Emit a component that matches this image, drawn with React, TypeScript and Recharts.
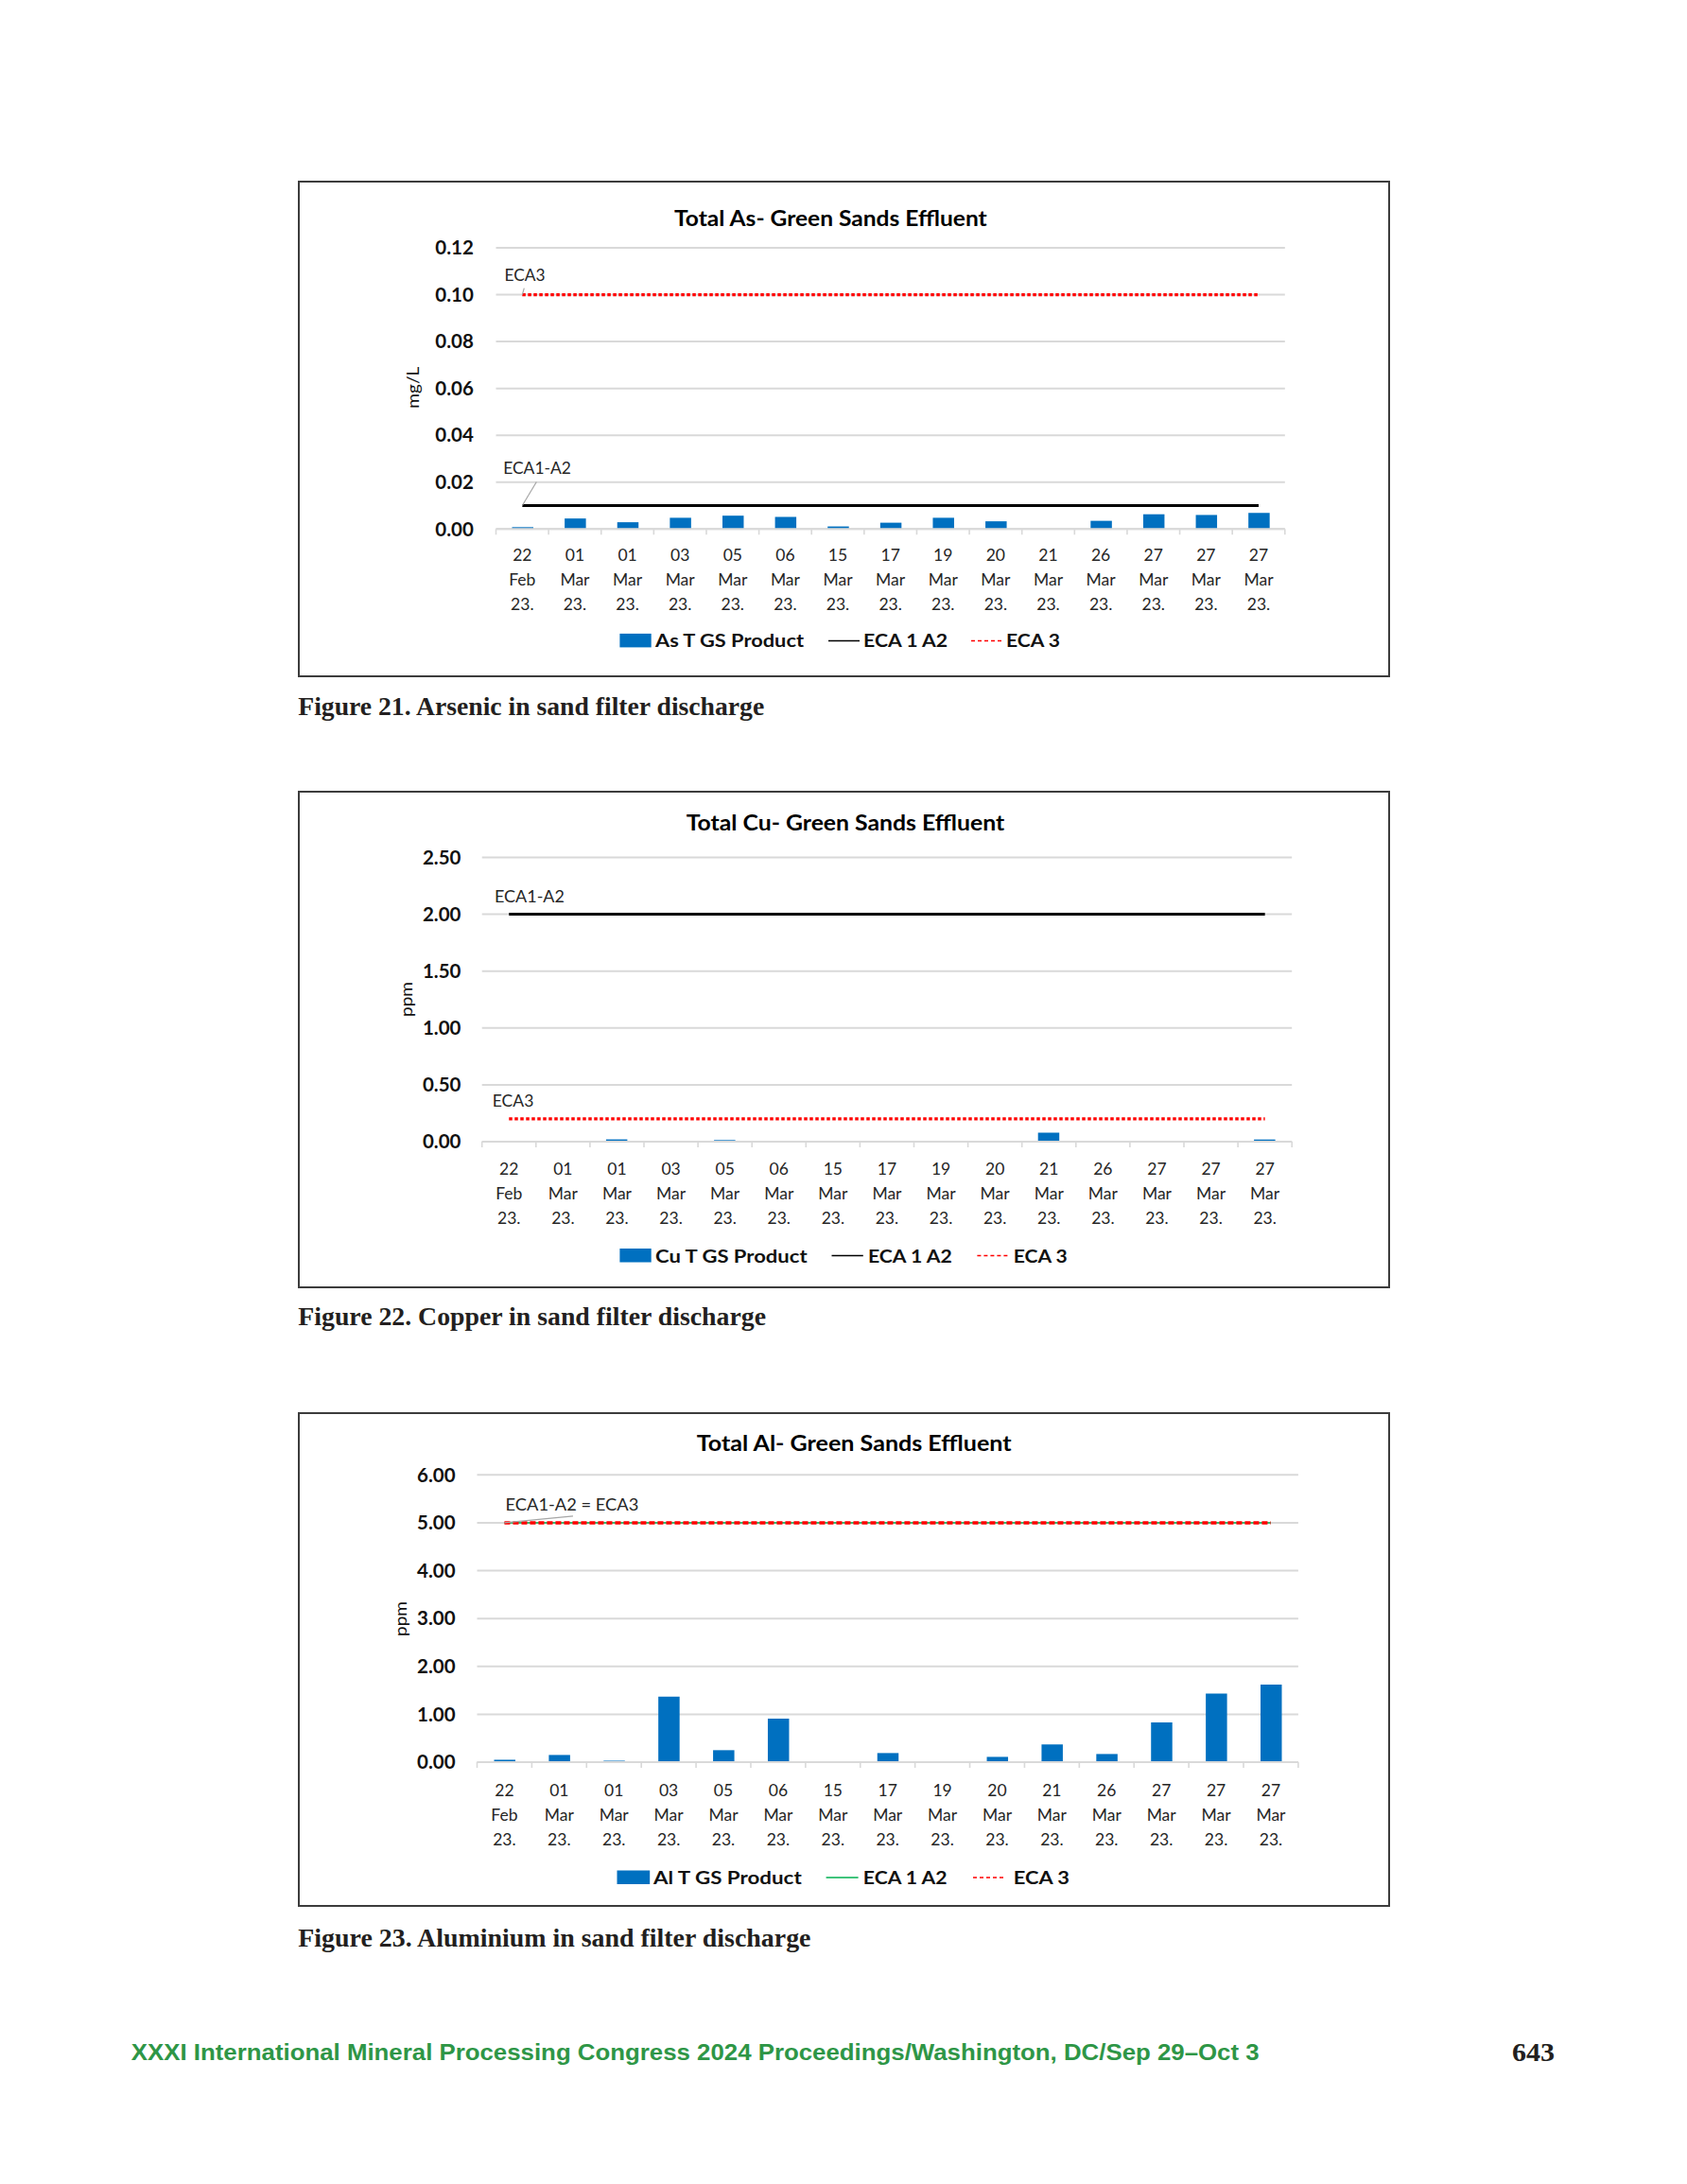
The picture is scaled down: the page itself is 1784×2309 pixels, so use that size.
import React from 'react';
import { ComposedChart, Bar, Line, XAxis, YAxis, CartesianGrid, ReferenceDot } from 'recharts';

// ---------- data ----------
const dates = ['22 Feb 23.', '01 Mar 23.', '01 Mar 23.', '03 Mar 23.', '05 Mar 23.', '06 Mar 23.', '15 Mar 23.', '17 Mar 23.', '19 Mar 23.', '20 Mar 23.', '21 Mar 23.', '26 Mar 23.', '27 Mar 23.', '27 Mar 23.', '27 Mar 23.'];

const asProduct = [0.0008, 0.0045, 0.0029, 0.0048, 0.0057, 0.0052, 0.0011, 0.0027, 0.0048, 0.0033, 0, 0.0035, 0.0063, 0.006, 0.0069];
const asEca1A2 = 0.01;
const asEca3 = 0.1;
const asTicks = [0, 0.02, 0.04, 0.06, 0.08, 0.1, 0.12];

const cuProduct = [0.005, 0.005, 0.02, 0.004, 0.014, 0.004, 0.003, 0.002, 0.002, 0.003, 0.079, 0.004, 0.005, 0.004, 0.019];
const cuEca1A2 = 2.0;
const cuEca3 = 0.2;
const cuTicks = [0, 0.5, 1, 1.5, 2, 2.5];

const alProduct = [0.05, 0.15, 0.03, 1.37, 0.25, 0.91, 0.01, 0.19, 0.01, 0.11, 0.37, 0.17, 0.83, 1.43, 1.62];
const alEca1A2 = 5.0;
const alEca3 = 5.0;
const alTicks = [0, 1, 2, 3, 4, 5, 6];

const legendNames = {
  as: ['As T GS Product', 'ECA 1 A2', 'ECA 3'],
  cu: ['Cu T GS Product', 'ECA 1 A2', 'ECA 3'],
  al: ['Al T GS Product', 'ECA 1 A2', 'ECA 3'],
};

// ---------- style ----------
const BLUE = '#0070C0';
const GRID = '#d9d9d9';
const FONT = 'Lato, "Open Sans", sans-serif';
const BOX_LEFT = 315;
const BOX_W = 1155;
const BORDER = 2;
const YW = 80;
const XH = 100;

type Ann = { text: string; dx: number; dy: number; w: number; leader?: [number, number] };

type PanelProps = {
  boxTop: number;
  boxH: number;
  values: number[];
  eca1: number;
  eca3: number;
  ticks: number[];
  plotLeft: number;
  plotRight: number;
  plotTop: number;
  plotBottom: number;
  labelGap: number;
  xOffs: number[];
  ann1?: Ann & { y: number };
  ann2?: Ann & { y: number };
  eca1Color: string;
  eca1Width: number;
  eca3Dash: string;
  eca3Width: number;
};

const annShape = (a: Ann) => (p: any) => {
  const { cx, cy } = p;
  if (cx == null || cy == null) return <g />;
  return (
    <g>
      {a.leader && (
        <line x1={cx} y1={cy} x2={cx + a.leader[0]} y2={cy + a.leader[1]} stroke="#a6a6a6" strokeWidth={1.2} />
      )}
      <text x={cx + a.dx} y={cy + a.dy} textAnchor="middle" fontFamily={FONT} fontSize={17.5} fill="#262626"
        textLength={a.w} lengthAdjust="spacingAndGlyphs">{a.text}</text>
    </g>
  );
};

const Panel = (pp: PanelProps) => {
  const n = dates.length;
  const innerLeft = BOX_LEFT + BORDER;
  const innerTop = pp.boxTop + BORDER;
  const innerW = BOX_W - 2 * BORDER;
  const innerH = pp.boxH - 2 * BORDER;
  const margin = {
    left: pp.plotLeft - innerLeft - YW,
    right: innerLeft + innerW - pp.plotRight,
    top: pp.plotTop - innerTop,
    bottom: innerTop + innerH - pp.plotBottom - XH,
  };
  const band = (pp.plotRight - pp.plotLeft) / n;
  const rows = dates.map((d, i) => ({ idx: i, product: pp.values[i], eca1: pp.eca1, eca3: pp.eca3 }));

  const XTick = (props: any) => {
    const { x, y, index } = props;
    const parts = dates[index].split(' ');
    const half = band / 2;
    return (
      <g>
        <line x1={x - half} y1={y} x2={x - half} y2={y + 6} stroke={GRID} strokeWidth={1.6} />
        {index === n - 1 && <line x1={x + half} y1={y} x2={x + half} y2={y + 6} stroke={GRID} strokeWidth={1.6} />}
        {parts.map((t, k) => (
          <text key={k} x={x} y={y + pp.xOffs[k]} textAnchor="middle" fontFamily={FONT} fontSize={17.5} fill="#262626">{t}</text>
        ))}
      </g>
    );
  };

  return (
    <div style={{ position: 'absolute', left: BOX_LEFT, top: pp.boxTop, width: BOX_W, height: pp.boxH, boxSizing: 'border-box', border: `${BORDER}px solid #3c3c3c`, background: '#fff' }}>
      <ComposedChart width={innerW} height={innerH} data={rows} margin={margin}>
        <CartesianGrid vertical={false} stroke={GRID} strokeWidth={2} />
        <XAxis dataKey="idx" type="category" interval={0} height={XH} tickSize={0} tickMargin={0} tickLine={false}
          axisLine={{ stroke: GRID, strokeWidth: 2 }} tick={<XTick />} />
        <YAxis width={YW} domain={[pp.ticks[0], pp.ticks[pp.ticks.length - 1]]} ticks={pp.ticks} interval={0}
          tickSize={0} tickMargin={pp.labelGap} axisLine={false} tickLine={false}
          tickFormatter={(v: number) => v.toFixed(2)}
          tick={{ fontFamily: FONT, fontWeight: 700, fontSize: 20.5, fill: '#111' }} />
        <Bar dataKey="product" fill={BLUE} barSize={22.5} minPointSize={0} isAnimationActive={false} />
        <Line type="linear" dataKey="eca1" stroke={pp.eca1Color} strokeWidth={pp.eca1Width} dot={false} activeDot={false} isAnimationActive={false} />
        <Line type="linear" dataKey="eca3" stroke="#ff0000" strokeWidth={pp.eca3Width} strokeDasharray={pp.eca3Dash} dot={false} activeDot={false} isAnimationActive={false} />
        {pp.ann1 && <ReferenceDot x={0} y={pp.ann1.y} r={0} ifOverflow="visible" shape={annShape(pp.ann1)} />}
        {pp.ann2 && <ReferenceDot x={0} y={pp.ann2.y} r={0} ifOverflow="visible" shape={annShape(pp.ann2)} />}
      </ComposedChart>
    </div>
  );
};

type LegendSpec = {
  names: string[];
  baseline: number;
  sw: [number, number];
  t1: [number, number];
  ln: [number, number];
  t2: [number, number];
  ds: [number, number];
  t3: [number, number];
  lineColor: string;
};

const LegendRow = ({ s }: { s: LegendSpec }) => {
  const cy = s.baseline - 7;
  const txt = (r: [number, number], label: string) => (
    <text x={r[0]} y={s.baseline} fontFamily={FONT} fontWeight={700} fontSize={19.5} fill="#111"
      textLength={r[1] - r[0]} lengthAdjust="spacingAndGlyphs">{label}</text>
  );
  return (
    <g>
      <rect x={s.sw[0]} y={s.baseline - 14.5} width={s.sw[1] - s.sw[0]} height={14.5} fill={BLUE} />
      {txt(s.t1, s.names[0])}
      <line x1={s.ln[0]} y1={cy} x2={s.ln[1]} y2={cy} stroke={s.lineColor} strokeWidth={1.5} />
      {txt(s.t2, s.names[1])}
      <line x1={s.ds[0]} y1={cy} x2={s.ds[1]} y2={cy} stroke="#ff0000" strokeWidth={1.5} strokeDasharray="4 3" />
      {txt(s.t3, s.names[2])}
    </g>
  );
};

const Title = ({ x1, x2, y, text }: { x1: number; x2: number; y: number; text: string }) => (
  <text x={x1} y={y} fontFamily={FONT} fontWeight={700} fontSize={23} fill="#000" textLength={x2 - x1} lengthAdjust="spacingAndGlyphs">{text}</text>
);

const YLabel = ({ x, y, len, text }: { x: number; y: number; len: number; text: string }) => (
  <text x={0} y={0} transform={`translate(${x},${y}) rotate(-90)`} textAnchor="middle" dominantBaseline="central"
    fontFamily={FONT} fontSize={17} fill="#111" textLength={len} lengthAdjust="spacingAndGlyphs">{text}</text>
);

const Caption = ({ x1, x2, y, text }: { x1: number; x2: number; y: number; text: string }) => (
  <text x={x1} y={y} fontFamily='"Liberation Serif", "DejaVu Serif", serif' fontWeight={700} fontSize={26.5} fill="#231f20"
    textLength={x2 - x1} lengthAdjust="spacingAndGlyphs">{text}</text>
);

export default function App() {
  return (
    <div style={{ position: 'absolute', left: 0, top: 0, width: 1784, height: 2309, background: '#fff', overflow: 'hidden' }}>
      <Panel boxTop={191} boxH={525} values={asProduct} eca1={asEca1A2} eca3={asEca3} ticks={asTicks}
        plotLeft={524.5} plotRight={1358.8} plotTop={262} plotBottom={559.3} labelGap={23.7} xOffs={[34, 60, 86]}
        eca1Color="#000" eca1Width={3} eca3Dash="3.5 2.5" eca3Width={3.2}
        ann1={{ y: asEca3, text: 'ECA3', dx: 2.7, dy: -15, w: 43, leader: [2, -7] }}
        ann2={{ y: asEca1A2, text: 'ECA1-A2', dx: 15.7, dy: -34, w: 71.7, leader: [15, -25] }} />
      <Panel boxTop={836} boxH={526} values={cuProduct} eca1={cuEca1A2} eca3={cuEca3} ticks={cuTicks}
        plotLeft={509.7} plotRight={1366.2} plotTop={906.4} plotBottom={1207} labelGap={22.2} xOffs={[35, 61, 87]}
        eca1Color="#000" eca1Width={3} eca3Dash="3.5 2.5" eca3Width={3.2}
        ann1={{ y: cuEca1A2, text: 'ECA1-A2', dx: 21.7, dy: -12.5, w: 74 }}
        ann2={{ y: cuEca3, text: 'ECA3', dx: 4.3, dy: -12.5, w: 43.6 }} />
      <Panel boxTop={1493} boxH={523} values={alProduct} eca1={alEca1A2} eca3={alEca3} ticks={alTicks}
        plotLeft={504.5} plotRight={1372.9} plotTop={1559.3} plotBottom={1863} labelGap={22.9} xOffs={[36, 62, 88]}
        eca1Color="#00b050" eca1Width={1.5} eca3Dash="6 3" eca3Width={3.5}
        ann1={{ y: alEca3, text: 'ECA1-A2 = ECA3', dx: 71.5, dy: -13.4, w: 140.7, leader: [72.5, -7] }} />

      <svg width={1784} height={2309} style={{ position: 'absolute', left: 0, top: 0, pointerEvents: 'none' }}>
        <Title x1={713.1} x2={1043.7} y={239} text="Total As- Green Sands Effluent" />
        <Title x1={725.7} x2={1062.2} y={878.3} text="Total Cu- Green Sands Effluent" />
        <Title x1={736.8} x2={1069.6} y={1534} text="Total Al- Green Sands Effluent" />

        <YLabel x={436.5} y={409.7} len={44} text="mg/L" />
        <YLabel x={429} y={1056.5} len={37} text="ppm" />
        <YLabel x={423.5} y={1711.5} len={37} text="ppm" />

        <LegendRow s={{ names: legendNames.as, baseline: 684.4, sw: [655.4, 688.7], t1: [693, 850], ln: [876, 909], t2: [913, 1002], ds: [1027, 1061], t3: [1064, 1121], lineColor: '#000' }} />
        <LegendRow s={{ names: legendNames.cu, baseline: 1334.5, sw: [655.4, 688.7], t1: [693, 853.6], ln: [879.5, 912.8], t2: [918, 1006.7], ds: [1033.4, 1066], t3: [1071.8, 1128.8], lineColor: '#000' }} />
        <LegendRow s={{ names: legendNames.al, baseline: 1992, sw: [652.5, 687.2], t1: [691, 847.7], ln: [873.6, 907.6], t2: [912.8, 1001.6], ds: [1029, 1063], t3: [1071.8, 1131], lineColor: '#00b050' }} />

        <Caption x1={315.3} x2={808.2} y={756} text="Figure 21. Arsenic in sand filter discharge" />
        <Caption x1={315.3} x2={810} y={1401} text="Figure 22. Copper in sand filter discharge" />
        <Caption x1={315.3} x2={857.5} y={2058} text="Figure 23. Aluminium in sand filter discharge" />

        <text x={138.8} y={2178.3} fontFamily='"Liberation Sans", Arial, sans-serif' fontWeight={700} fontSize={23} fill="#2e9646"
          textLength={1331.6 - 138.8} lengthAdjust="spacingAndGlyphs">XXXI International Mineral Processing Congress 2024 Proceedings/Washington, DC/Sep 29–Oct 3</text>
        <text x={1599} y={2179} fontFamily='"Liberation Serif", serif' fontWeight={700} fontSize={27} fill="#231f20"
          textLength={45} lengthAdjust="spacingAndGlyphs">643</text>
      </svg>
    </div>
  );
}
